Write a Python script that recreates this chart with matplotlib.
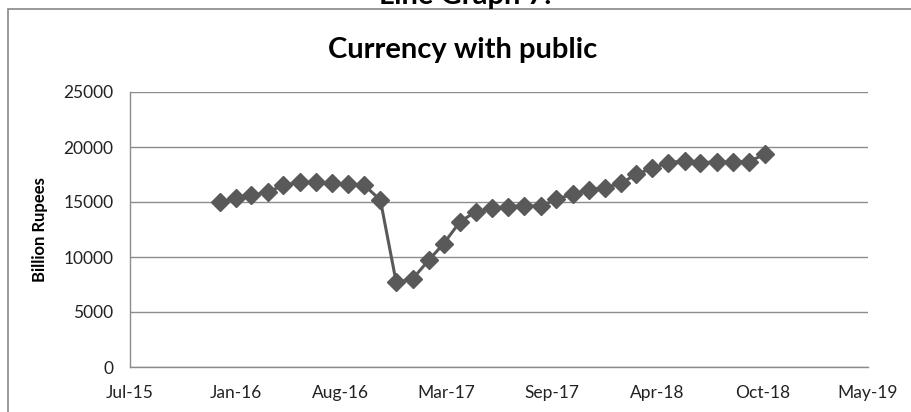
import matplotlib
matplotlib.use("Agg")
import matplotlib.pyplot as plt
import matplotlib.dates as mdates
from matplotlib.patches import Rectangle
import datetime as dt

plt.rcParams['font.family'] = ['Lato', 'DejaVu Sans']

# Monthly currency with public, Jan-2016 .. Nov-2018 (billion rupees)
start_year, start_month = 2016, 1
currency = [15000, 15330, 15640, 15880, 16540, 16790, 16790, 16700, 16640, 16540,
            15180, 7700, 8000, 9730, 11210, 13210, 14120, 14420, 14580, 14640,
            14640, 15240, 15730, 16090, 16300, 16700, 17520, 18060, 18580, 18730,
            18580, 18640, 18640, 18670, 19360]

months = []
y, m = start_year, start_month
for _ in currency:
    months.append(dt.date(y, m, 1))
    m += 1
    if m > 12:
        m = 1
        y += 1

y_ticks = [0, 5000, 10000, 15000, 20000, 25000]
x_start = dt.date(2015, 7, 15)
x_end = dt.date(2019, 5, 15)

W, H, DPI = 911, 412, 100
fig = plt.figure(figsize=(W / DPI, H / DPI), dpi=DPI)
fig.patch.set_facecolor('white')

# Chart-area frame
fig.patches.append(Rectangle((8 / W, -0.1), 1.2, 1 - 9 / H + 0.1,
                             transform=fig.transFigure, fill=False,
                             edgecolor='#878787', linewidth=1.2, zorder=0))

fig.text(465 / W, 1 - 4 / H, "Line Graph 7.", ha='center', va='baseline',
         fontsize=21, fontweight='bold', color='black')

ax = fig.add_axes([130 / W, 1 - 367 / H, (868 - 130) / W, (367 - 92) / H])

ax.plot(months, currency, color='#595959', linewidth=2.2, marker='D',
        markersize=8.8, markerfacecolor='#595959', markeredgecolor='#595959',
        zorder=3)

ax.set_xlim(x_start, x_end)
ax.set_ylim(0, 25000)
ax.set_yticks(y_ticks)
ax.set_yticklabels([str(v) for v in y_ticks])

tick_dates = [x_start + dt.timedelta(days=200 * i) for i in range(8)]
ax.set_xticks(tick_dates)
ax.xaxis.set_major_formatter(mdates.DateFormatter('%b-%y'))

ax.yaxis.grid(True, color='#8c8c8c', linewidth=1.0)
ax.set_axisbelow(True)
for side in ('top', 'right'):
    ax.spines[side].set_visible(False)
for side in ('left', 'bottom'):
    ax.spines[side].set_color('#8c8c8c')
    ax.spines[side].set_linewidth(1.0)

ax.tick_params(axis='both', length=0, labelsize=12.5, colors='#222222')
ax.tick_params(axis='y', pad=12)
ax.tick_params(axis='x', pad=13)

ax.set_ylabel("Billion Rupees", fontsize=12, fontweight='bold', labelpad=11)

fig.text(463 / W, 1 - 58 / H, "Currency with public", ha='center', va='baseline',
         fontsize=21, fontweight='bold', color='black')

fig.savefig('out.png', dpi=DPI, facecolor='white')
